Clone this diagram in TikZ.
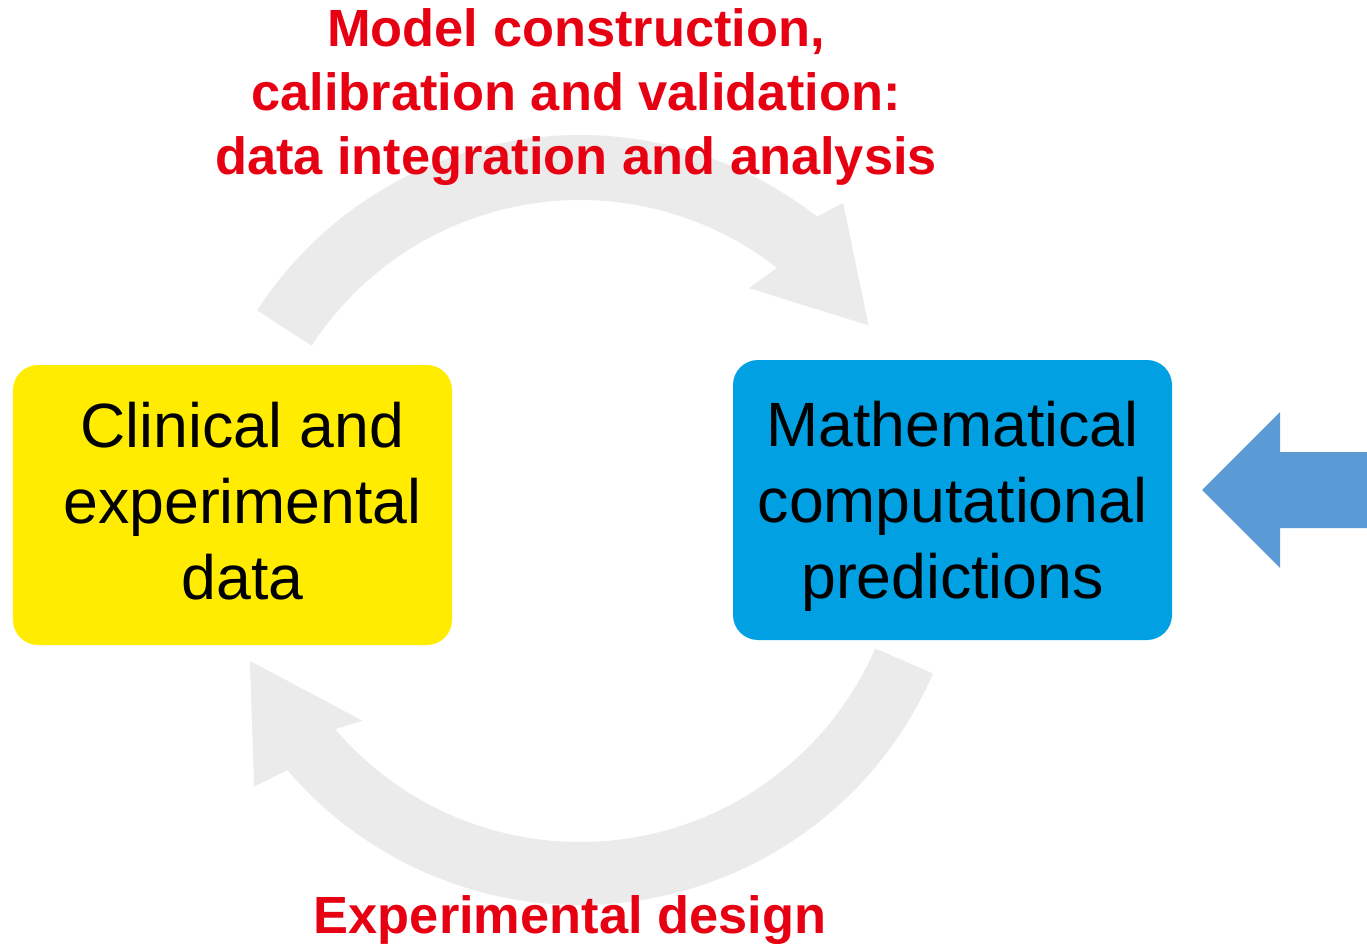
\documentclass[tikz,border=0pt]{standalone}
\usepackage{fontspec}
\setmainfont{Liberation Sans}
\usepackage{tikz}
\usetikzlibrary{positioning}
\definecolor{boxyellow}{RGB}{255,236,0}
\definecolor{boxblue}{RGB}{0,160,227}
\definecolor{cyclegray}{RGB}{235,235,235}
\definecolor{labelred}{RGB}{230,0,18}
\definecolor{inblue}{RGB}{91,155,213}
\tikzset{
  box/.style={rectangle, rounded corners=0.25cm, minimum width=4.39cm, minimum height=2.8cm, inner sep=0pt},
  boxtext/.style={align=center, inner sep=0pt, font=\fontsize{17.8}{21.6}\selectfont},
  lab/.style={text=labelred, align=center, font=\fontsize{14.9}{18.2}\selectfont\bfseries},
  cyc/.style={fill=cyclegray, draw=none}
}

\begin{document}
\begin{tikzpicture}
    \useasboundingbox (0,0) rectangle (13.67,-9.44);
    \coordinate (c) at (5.80,-5.20);
    \fill[cyc] ([shift={(c)}]147:3.85) arc[start angle=147, end angle=52, radius=3.85] -- ([shift={(c)}]50.3:4.12) -- ([shift={(c)}]34:3.48) -- ([shift={(c)}]53.9:2.87) -- ([shift={(c)}]52:3.2) arc[start angle=52, end angle=147, radius=3.2] -- cycle;
    \fill[cyc] ([shift={(c)}]-23.5:3.85) arc[start angle=-23.5, end angle=-139.5, radius=3.85] -- ([shift={(c)}]-140.7:4.21) -- ([shift={(c)}]-156.9:3.59) -- ([shift={(c)}]-137.3:2.96) -- ([shift={(c)}]-139.5:3.22) arc[start angle=-139.5, end angle=-23.5, radius=3.22] -- cycle;
    \node [box, fill=boxyellow] (data)  at (2.325,-5.05) {};
    \node [box, fill=boxblue]   (model) at (9.525,-5.00) {};
    \node [boxtext] (datatext)  at ([shift={(0.10,0.04)}]data.center)   {Clinical and\\experimental\\data};
    \node [boxtext] (modeltext) at ([shift={(0,-0.06)}]model.center) {Mathematical\\computational\\predictions};
    \fill[inblue] (12.02,-4.90) -- (12.80,-4.12) -- (12.80,-4.52) -- (13.67,-4.52) -- (13.67,-5.28) -- (12.80,-5.28) -- (12.80,-5.68) -- cycle;
    \node [lab] (build) at (5.76,-0.97) {Model construction,\\calibration and validation:\\data integration and analysis};
    \node [lab, anchor=base] (design) at (5.70,-9.33) {Experimental design};
\end{tikzpicture}
\end{document}
